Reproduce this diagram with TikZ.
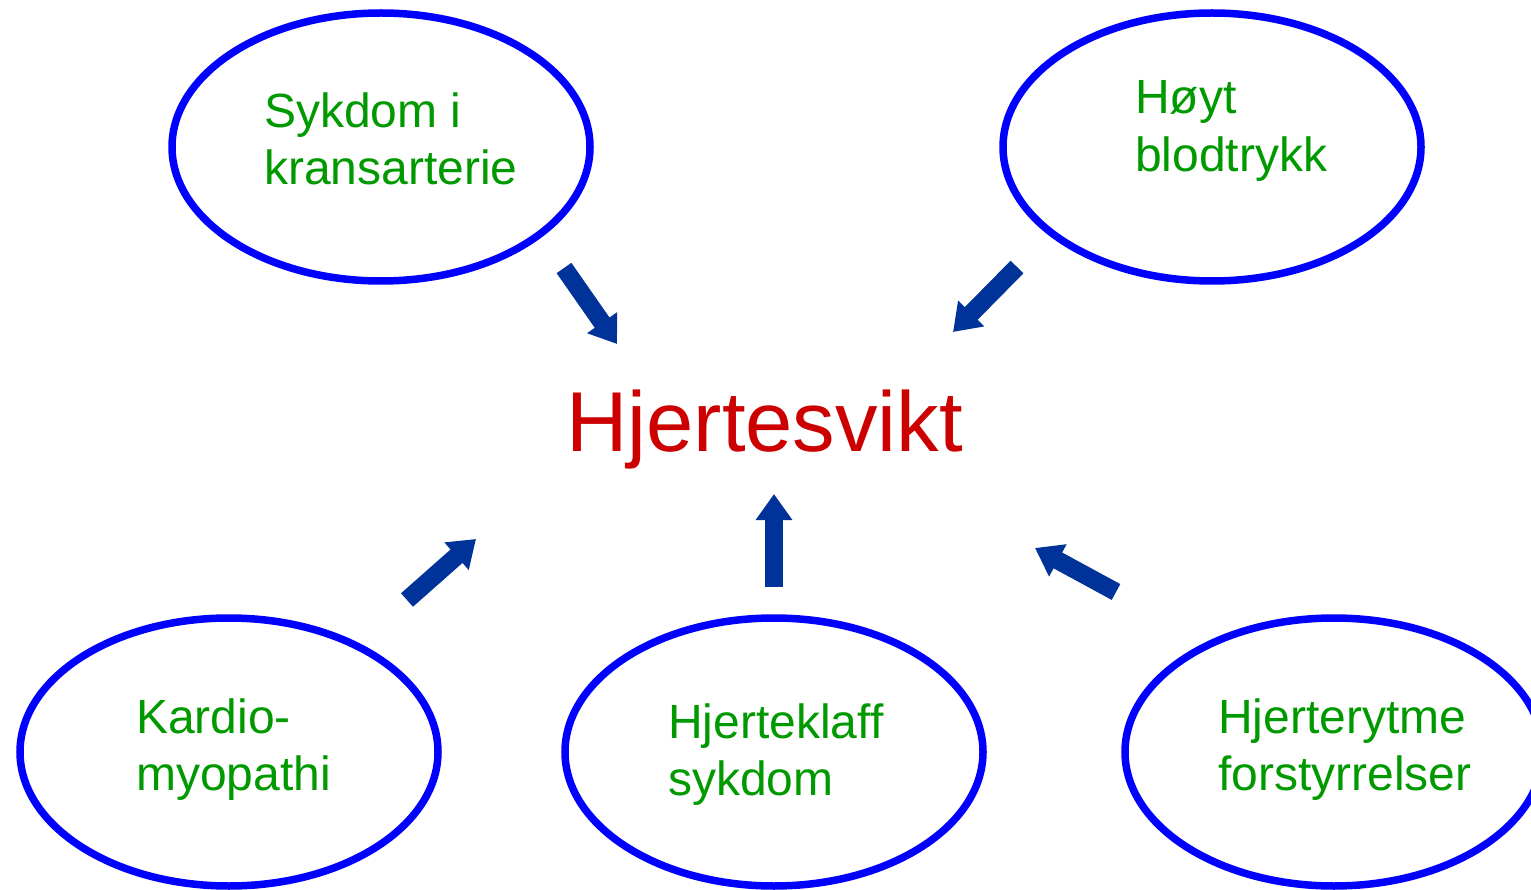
\documentclass[tikz,border=0pt]{standalone}
\usepackage{fontspec}
\setmainfont{Liberation Sans}
\usetikzlibrary{shapes.geometric,arrows.meta}
\definecolor{ringblue}{RGB}{0,0,255}
\definecolor{txtgreen}{RGB}{0,153,0}
\definecolor{hred}{RGB}{204,0,0}
\definecolor{arrblue}{RGB}{0,51,153}
\tikzset{
  oval/.style={ellipse,draw=ringblue,line width=7.5pt,minimum width=418pt,minimum height=268pt,inner sep=0pt},
  lbl/.style={anchor=base west,inner sep=0pt,text=txtgreen,font=\fontsize{48}{57}\selectfont},
  blockarrow/.style={draw=arrblue,line width=18pt,-{Triangle[width=35pt,length=26pt]}}
}
\begin{document}
\begin{tikzpicture}[x=1pt,y=-1pt]
\useasboundingbox (0,0) rectangle (1531,890);
\clip (0,0) rectangle (1531,890);
% ellipses
\node[oval] (e1) at (381,147) {};
\node[oval] (e2) at (1212,147) {};
\node[oval] (e3) at (229,752) {};
\node[oval] (e4) at (774,752) {};
\node[oval] (e5) at (1334,752) {};
% labels
\node[lbl] (t1a) at (264,128) {Sykdom i};
\node[lbl] (t1b) at (264,185) {kransarterie};
\node[lbl] (t2a) at (1135,114) {Høyt};
\node[lbl] (t2b) at (1135,172) {blodtrykk};
\node[lbl] (t3a) at (136,733) {Kardio-};
\node[lbl] (t3b) at (136,790) {myopathi};
\node[lbl] (t4a) at (668,738) {Hjerteklaff};
\node[lbl] (t4b) at (668,795) {sykdom};
\node[lbl] (t5a) at (1218,733) {Hjerterytme};
\node[lbl] (t5b) at (1218,790) {forstyrrelser};
\node[anchor=base west,inner sep=0pt,text=hred,font=\fontsize{85}{100}\selectfont] (hs) at (566,451) {Hjertesvikt};
% arrow endpoints
\coordinate (a1s) at (564,268); \coordinate (a1e) at (617,344);
\coordinate (a2s) at (1017,267); \coordinate (a2e) at (953,332);
\coordinate (a3s) at (407,600); \coordinate (a3e) at (476,539);
\coordinate (a4s) at (774,587); \coordinate (a4e) at (774,494);
\coordinate (a5s) at (1116,592); \coordinate (a5e) at (1035,548);
\draw[blockarrow] (a1s) -- (a1e);
\draw[blockarrow] (a2s) -- (a2e);
\draw[blockarrow] (a3s) -- (a3e);
\draw[blockarrow] (a4s) -- (a4e);
\draw[blockarrow] (a5s) -- (a5e);
\end{tikzpicture}
\end{document}
